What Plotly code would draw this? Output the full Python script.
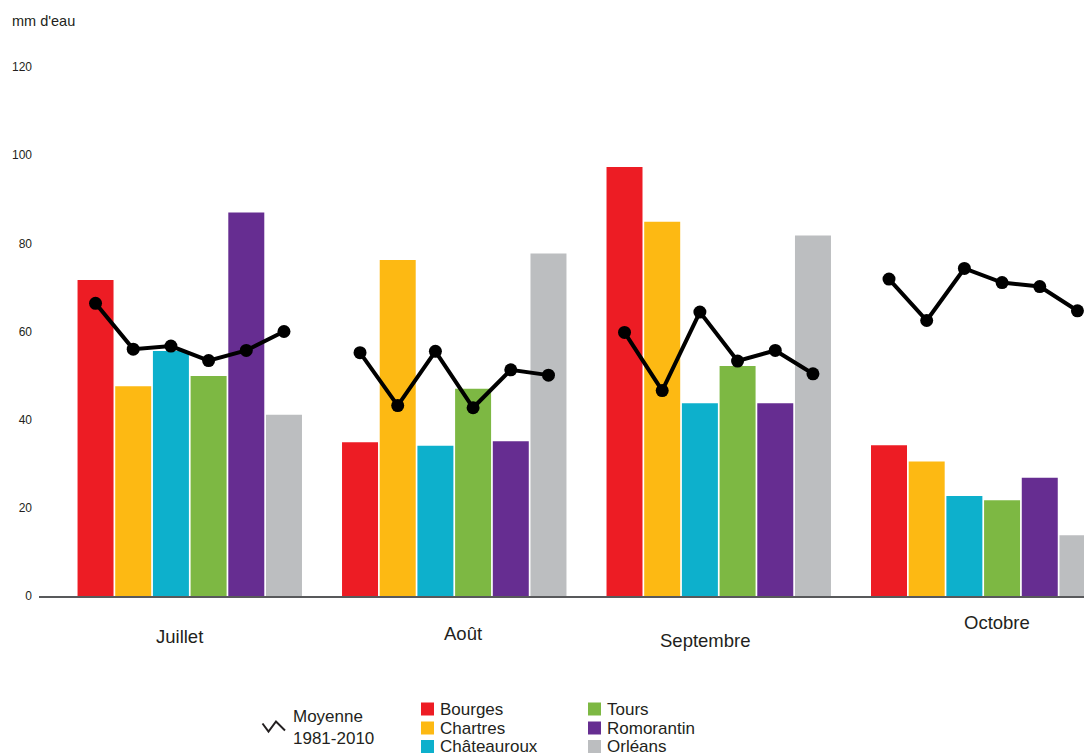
import plotly.graph_objects as go

# ---------------- data ----------------
months = ["Juillet", "Août", "Septembre", "Octobre"]
stations = ["Bourges", "Chartres", "Châteauroux", "Tours", "Romorantin", "Orléans"]
colors = ["#ED1C24", "#FDB913", "#0DB0CC", "#7DB843", "#662D91", "#BCBEC0"]

# monthly rainfall (mm) per station: Juillet, Août, Septembre, Octobre
bourges = [71.7, 34.9, 97.3, 34.2]
chartres = [47.6, 76.2, 84.9, 30.5]
chateauroux = [55.6, 34.1, 43.7, 22.7]
tours = [49.9, 47.0, 52.2, 21.7]
romorantin = [87.0, 35.1, 43.7, 26.8]
orleans = [41.1, 77.7, 81.8, 13.8]
rain = [bourges, chartres, chateauroux, tours, romorantin, orleans]

# Moyenne 1981-2010 per station: Juillet, Août, Septembre, Octobre
moy_bourges = [66.4, 55.2, 59.8, 71.9]
moy_chartres = [56.0, 43.2, 46.6, 62.5]
moy_chateauroux = [56.7, 55.5, 64.4, 74.3]
moy_tours = [53.4, 42.7, 53.3, 71.1]
moy_romorantin = [55.7, 51.3, 55.7, 70.2]
moy_orleans = [60.0, 50.1, 50.4, 64.7]
moyenne = [moy_bourges, moy_chartres, moy_chateauroux, moy_tours, moy_romorantin, moy_orleans]

y_ticks = [0, 20, 40, 60, 80, 100, 120]
y_title = "mm d'eau"
moy_label = "Moyenne<br>1981-2010"

# ---------------- layout constants ----------------
W, H = 1084, 756
PLOT_L, PLOT_R, PLOT_T, PLOT_B = 39, 1084, 67, 596   # pixels
ML, MR, MT, MB = PLOT_L, W - PLOT_R, PLOT_T, H - PLOT_B
SLOT = 0.1425          # width of one station slot within a month group
BARW = SLOT * 0.955
TXT = "#231F20"

def pxx(px):
    return (px - PLOT_L) / (PLOT_R - PLOT_L)

def pxy(py):
    return (PLOT_B - py) / (PLOT_B - PLOT_T)

fig = go.Figure()

n = len(stations)
for s, name in enumerate(stations):
    xs = [m + (s - (n - 1) / 2) * SLOT for m in range(len(months))]
    fig.add_trace(go.Bar(
        x=xs, y=rain[s], width=BARW, name=name,
        marker=dict(color=colors[s], line=dict(width=0)),
        showlegend=False,
    ))

# average line: one segment per month
lx, ly = [], []
for m in range(len(months)):
    for s in range(n):
        lx.append(m + (s - (n - 1) / 2) * SLOT)
        ly.append(moyenne[s][m])
    lx.append(None)
    ly.append(None)
fig.add_trace(go.Scatter(
    x=lx, y=ly, mode="lines+markers", name="Moyenne 1981-2010",
    line=dict(color="black", width=4),
    marker=dict(color="black", size=13),
    connectgaps=False, showlegend=False, cliponaxis=False,
))

annotations = []
shapes = []

# month labels (irregular placement as in the reference)
label_offsets = [(-10, -40), (9, -37), (-13, -44), (14, -26)]
for m, name in enumerate(months):
    dx, dy = label_offsets[m]
    annotations.append(dict(
        x=m, y=0, xref="x", yref="y", text=name, showarrow=False,
        xshift=dx, yshift=dy, font=dict(size=18.5, color=TXT),
        xanchor="center", yanchor="middle",
    ))

# axis unit label
annotations.append(dict(
    x=pxx(10), y=pxy(21), xref="paper", yref="paper", text=y_title,
    showarrow=False, xanchor="left", yanchor="middle",
    font=dict(size=14.5, color=TXT),
))

# legend: Moyenne
shapes.append(dict(
    type="path", xref="paper", yref="paper",
    path="M {:.5f},{:.5f} L {:.5f},{:.5f} L {:.5f},{:.5f} L {:.5f},{:.5f}".format(
        pxx(262.5), pxy(723.5), pxx(268.5), pxy(731.5),
        pxx(276), pxy(721.5), pxx(285), pxy(730.5)),
    line=dict(color=TXT, width=2),
))
annotations.append(dict(
    x=pxx(291), y=pxy(727), xref="paper", yref="paper", text=moy_label,
    showarrow=False, xanchor="left", yanchor="middle", align="left",
    font=dict(size=17, color=TXT),
))

# legend: stations (2 columns x 3 rows)
col_x = [421, 588]
row_y = [709, 728, 746.5]
for s, name in enumerate(stations):
    cx = col_x[s // 3]
    cy = row_y[s % 3]
    shapes.append(dict(
        type="rect", xref="paper", yref="paper",
        x0=pxx(cx), x1=pxx(cx + 13), y0=pxy(cy - 6.5), y1=pxy(cy + 6.5),
        fillcolor=colors[s], line=dict(width=0),
    ))
    annotations.append(dict(
        x=pxx(cx + 17), y=pxy(cy), xref="paper", yref="paper", text=name,
        showarrow=False, xanchor="left", yanchor="middle",
        font=dict(size=17, color=TXT),
    ))

fig.update_layout(
    width=W, height=H,
    margin=dict(l=ML, r=MR, t=MT, b=MB, pad=0),
    paper_bgcolor="white", plot_bgcolor="white",
    font=dict(family="Liberation Sans, Arial, sans-serif", color=TXT),
    barmode="overlay",
    showlegend=False,
    annotations=annotations,
    shapes=shapes,
    xaxis=dict(
        range=[-0.570, 3.381], showgrid=False, zeroline=False,
        showticklabels=False, ticks="",
        showline=True, linecolor="#58595B", linewidth=1.5,
        fixedrange=True,
    ),
    yaxis=dict(
        range=[0, 120], tickvals=y_ticks, ticktext=[str(v) for v in y_ticks],
        showgrid=False, zeroline=False, showline=False, ticks="",
        tickfont=dict(size=12, color=TXT), ticklabelstandoff=6,
        fixedrange=True,
    ),
)

# remove the browser's default page margin so the figure fills the window exactly
fig.write_html(
    "out.html",
    config={"displayModeBar": False},
    post_script="document.body.style.margin='0';document.body.style.overflow='hidden';",
)
